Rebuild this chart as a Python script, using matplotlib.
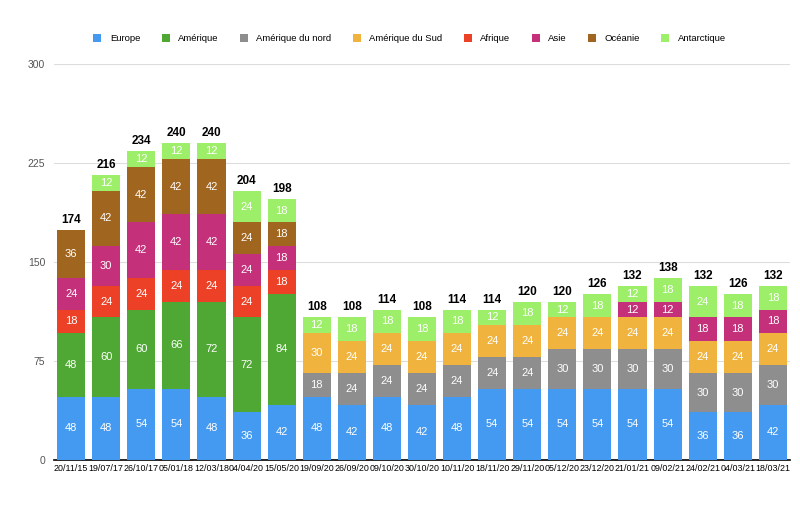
import matplotlib
matplotlib.use('Agg')
import matplotlib.pyplot as plt
import numpy as np

plt.rcParams['font.family'] = ['Liberation Sans', 'DejaVu Sans']

dates = ['20/11/15', '19/07/17', '26/10/17', '05/01/18', '12/03/18', '04/04/20', '15/05/20',
         '19/09/20', '26/09/20', '09/10/20', '30/10/20', '10/11/20', '18/11/20', '29/11/20',
         '05/12/20', '23/12/20', '21/01/21', '09/02/21', '24/02/21', '04/03/21', '18/03/21']

europe = [48, 48, 54, 54, 48, 36, 42, 48, 42, 48, 42, 48, 54, 54, 54, 54, 54, 54, 36, 36, 42]
amerique = [48, 60, 60, 66, 72, 72, 84, 0, 0, 0, 0, 0, 0, 0, 0, 0, 0, 0, 0, 0, 0]
amerique_nord = [0, 0, 0, 0, 0, 0, 0, 18, 24, 24, 24, 24, 24, 24, 30, 30, 30, 30, 30, 30, 30]
amerique_sud = [0, 0, 0, 0, 0, 0, 0, 30, 24, 24, 24, 24, 24, 24, 24, 24, 24, 24, 24, 24, 24]
afrique = [18, 24, 24, 24, 24, 24, 18, 0, 0, 0, 0, 0, 0, 0, 0, 0, 0, 0, 0, 0, 0]
asie = [24, 30, 42, 42, 42, 24, 18, 0, 0, 0, 0, 0, 0, 0, 0, 0, 12, 12, 18, 18, 18]
oceanie = [36, 42, 42, 42, 42, 24, 18, 0, 0, 0, 0, 0, 0, 0, 0, 0, 0, 0, 0, 0, 0]
antarctique = [0, 12, 12, 12, 12, 24, 18, 12, 18, 18, 18, 18, 12, 18, 12, 18, 12, 18, 24, 18, 18]

series = [
    ('Europe', europe, '#4499f0'),
    ('Amérique', amerique, '#4fa833'),
    ('Amérique du nord', amerique_nord, '#8e8e8e'),
    ('Amérique du Sud', amerique_sud, '#f0b43e'),
    ('Afrique', afrique, '#ec4126'),
    ('Asie', asie, '#c4307a'),
    ('Océanie', oceanie, '#a0651f'),
    ('Antarctique', antarctique, '#9def6a'),
]

fig = plt.figure(figsize=(8, 5.08), dpi=100)
ax = fig.add_axes([0.067, 0.0945, 0.921, 0.7795])

x = np.arange(len(dates))
bottom = np.zeros(len(dates))
for name, vals, color in series:
    vals = np.array(vals, dtype=float)
    ax.bar(x, vals, 0.8, bottom=bottom, color=color, label=name, zorder=3)
    for i, v in enumerate(vals):
        if v > 0:
            ax.text(x[i], bottom[i] + v / 2, f'{int(v)}', ha='center', va='center',
                    color='white', fontsize=8, zorder=4)
    bottom += vals

for i, tot in enumerate(bottom):
    ax.text(x[i], tot + 3, f'{int(tot)}', ha='center', va='bottom',
            fontsize=8.5, fontweight='bold', color='black')

ax.set_xlim(-0.5, len(dates) - 0.5)
ax.set_ylim(0, 300)
ax.set_yticks([0, 75, 150, 225, 300])
ax.set_xticks(x)
ax.set_xticklabels(dates, fontsize=6.4)
ax.tick_params(axis='y', labelsize=7.5, colors='#555555', length=0, pad=6)
ax.tick_params(axis='x', length=0, pad=3)
ax.grid(axis='y', color='#dddddd', linewidth=0.8, zorder=0)
for s in ['top', 'right', 'left']:
    ax.spines[s].set_visible(False)
ax.spines['bottom'].set_color('black')
ax.spines['bottom'].set_linewidth(1.2)

fig.legend(loc='center', bbox_to_anchor=(0.512, 0.924), ncol=8, frameon=False,
           fontsize=6.8, handlelength=0.85, handleheight=0.85, columnspacing=2.25,
           handletextpad=0.9)

fig.savefig('out.png', dpi=100)
